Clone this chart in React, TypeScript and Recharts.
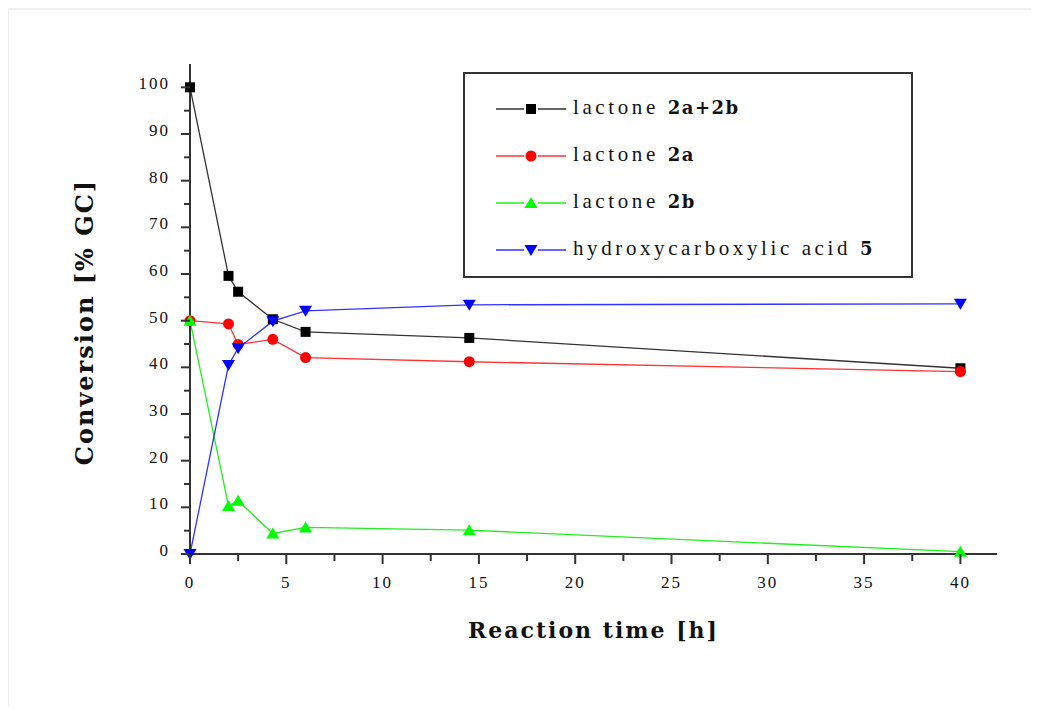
import { LineChart, Line, XAxis, YAxis } from 'recharts'

const times = [0, 2, 2.5, 4.3, 6, 14.5, 40]
const lactoneTotal = [100, 59.6, 56.2, 50.3, 47.6, 46.3, 39.8]
const lactone2a = [50, 49.3, 44.9, 46.0, 42.1, 41.2, 39.1]
const lactone2b = [50, 10.3, 11.4, 4.4, 5.7, 5.1, 0.5]
const acid5 = [0, 40.5, 44.1, 49.9, 52.1, 53.4, 53.6]

const xTicks = [0, 2.5, 5, 7.5, 10, 12.5, 15, 17.5, 20, 22.5, 25, 27.5, 30, 32.5, 35, 37.5, 40]
const yTicks = [0, 5, 10, 15, 20, 25, 30, 35, 40, 45, 50, 55, 60, 65, 70, 75, 80, 85, 90, 95, 100]

const series = [
  { key: 'total', plain: 'lactone ', bold: '2a+2b', color: '#000000', line: '#333333', shape: 'square', values: lactoneTotal },
  { key: 'a', plain: 'lactone ', bold: '2a', color: '#ff0000', line: '#ff3333', shape: 'circle', values: lactone2a },
  { key: 'b', plain: 'lactone ', bold: '2b', color: '#00ff00', line: '#22ee22', shape: 'up', values: lactone2b },
  { key: 'acid', plain: 'hydroxycarboxylic acid ', bold: '5', color: '#0000ff', line: '#3333ff', shape: 'down', values: acid5 },
]

const data = times.map((t, i) => {
  const row: Record<string, number> = { t }
  series.forEach(s => { row[s.key] = s.values[i] })
  return row
})

const serif = '"Liberation Serif", "Times New Roman", serif'
const boldSerif = '"DejaVu Serif", serif'

function Marker({ shape, color, cx, cy }: { shape: string; color: string; cx: number; cy: number }) {
  if (shape === 'square') return <rect x={cx - 5} y={cy - 5} width={10} height={10} fill={color} />
  if (shape === 'circle') return <circle cx={cx} cy={cy} r={5.5} fill={color} />
  if (shape === 'up') return <polygon points={`${cx - 6.5},${cy + 5} ${cx + 6.5},${cy + 5} ${cx},${cy - 6}`} fill={color} />
  return <polygon points={`${cx - 6.5},${cy - 5} ${cx + 6.5},${cy - 5} ${cx},${cy + 6}`} fill={color} />
}

const makeDot = (shape: string, color: string) => (props: any) => {
  const { cx, cy, index } = props
  if (cx == null || cy == null) return <g key={index} />
  return <g key={index}><Marker shape={shape} color={color} cx={cx} cy={cy} /></g>
}

const XTick = ({ x, y, payload }: any) => {
  const major = payload.value % 5 === 0
  return (
    <g>
      <line x1={x} x2={x} y1={y} y2={y + (major ? 10 : 7)} stroke="#333" strokeWidth={2} />
      {major && (
        <text x={x} y={y + 34} textAnchor="middle" fontFamily={serif} fontSize={17} letterSpacing={2} fill="#111">
          {payload.value}
        </text>
      )}
    </g>
  )
}

const YTick = ({ x, y, payload }: any) => {
  const major = payload.value % 10 === 0
  return (
    <g>
      <line x1={x} x2={x - (major ? 9 : 6)} y1={y} y2={y} stroke="#333" strokeWidth={2} />
      {major && (
        <text x={x - 20} y={y + 2} textAnchor="end" fontFamily={serif} fontSize={17} letterSpacing={2} fill="#111">
          {payload.value}
        </text>
      )}
    </g>
  )
}

const LegendBox = () => (
  <div style={{ position: 'absolute', left: 463, top: 72, width: 450, height: 206, border: '2px solid #333', boxSizing: 'border-box', background: '#fff' }}>
    {series.map((s, i) => (
      <div key={s.key} style={{ position: 'absolute', left: 0, top: 35 + i * 47 - 12, height: 24, width: 446 }}>
        <svg width={110} height={24} style={{ position: 'absolute', left: 0, top: 0 }}>
          <line x1={31} x2={101} y1={12} y2={12} stroke={s.line} strokeWidth={1.5} />
          <rect x={59} y={4} width={14} height={16} fill="#fff" />
          <Marker shape={s.shape} color={s.color} cx={66} cy={12} />
        </svg>
        <span style={{ position: 'absolute', left: 108, top: -2, whiteSpace: 'nowrap', fontFamily: serif, fontSize: 21, letterSpacing: 3.6, color: '#111' }}>
          {s.plain}
          <b style={{ fontFamily: boldSerif, fontSize: 18, letterSpacing: 1.5 }}>{s.bold}</b>
        </span>
      </div>
    ))}
  </div>
)

export default function App() {
  return (
    <div style={{ position: 'relative', width: 1039, height: 715, margin: -8, background: '#efefef', overflow: 'hidden' }}>
      <div style={{ position: 'absolute', left: 9, top: 10, right: 0, bottom: 0, background: '#fff' }} />
      <div style={{ position: 'absolute', left: 0, top: 0 }}>
        <LineChart width={1039} height={715} data={data} margin={{ top: 64, right: 42, left: 0, bottom: 0 }}>
          <XAxis
            dataKey="t"
            type="number"
            domain={[0, 41.9]}
            ticks={xTicks}
            interval={0}
            height={161}
            tickSize={0}
            tickMargin={0}
            tickLine={false}
            tick={<XTick />}
            axisLine={{ stroke: '#333', strokeWidth: 2 }}
            label={{ value: 'Reaction time [h]', position: 'insideTop', offset: 68, fontFamily: boldSerif, fontWeight: 'bold', fontSize: 22, letterSpacing: 2, fill: '#111' }}
          />
          <YAxis
            type="number"
            domain={[0, 105]}
            ticks={yTicks}
            interval={0}
            width={190}
            tickSize={0}
            tickMargin={0}
            tickLine={false}
            tick={<YTick />}
            axisLine={{ stroke: '#333', strokeWidth: 2 }}
            label={{ value: 'Conversion [% GC]', angle: -90, position: 'center', dx: -11, dy: 13, fontFamily: boldSerif, fontWeight: 'bold', fontSize: 24, letterSpacing: 2, fill: '#111' }}
          />
          {series.map(s => (
            <Line
              key={s.key}
              type="linear"
              dataKey={s.key}
              name={s.plain + s.bold}
              stroke={s.line}
              strokeWidth={1.3}
              dot={makeDot(s.shape, s.color)}
              activeDot={false}
              isAnimationActive={false}
            />
          ))}
        </LineChart>
      </div>
      <LegendBox />
    </div>
  )
}
